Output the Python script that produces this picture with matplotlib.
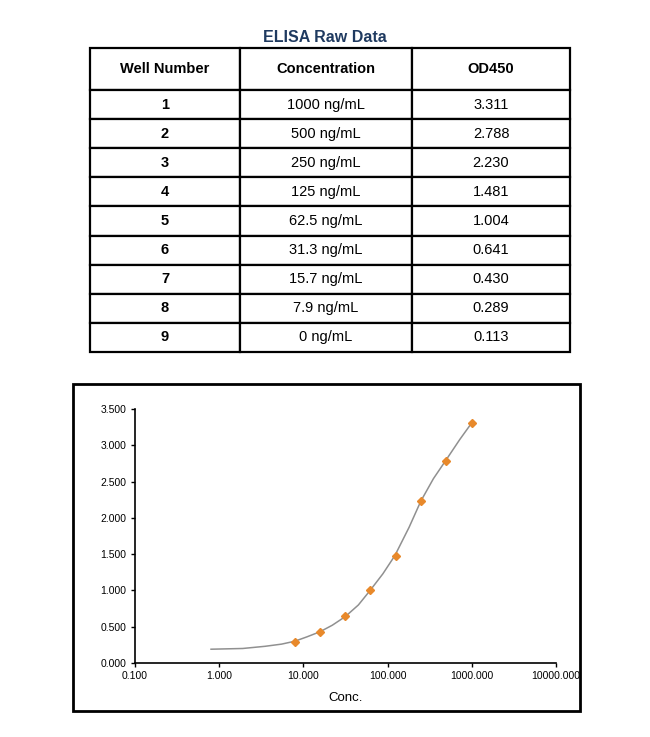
import numpy as np
import matplotlib
matplotlib.use("Agg")
import matplotlib.pyplot as plt
from matplotlib.patches import Rectangle
from matplotlib.ticker import FixedLocator, NullLocator, FormatStrFormatter

plt.rcParams['font.family'] = ['Liberation Sans', 'DejaVu Sans']

# table data
wells = ["1", "2", "3", "4", "5", "6", "7", "8", "9"]
conc_labels = ["1000 ng/mL", "500 ng/mL", "250 ng/mL", "125 ng/mL", "62.5 ng/mL",
               "31.3 ng/mL", "15.7 ng/mL", "7.9 ng/mL", "0 ng/mL"]
od_labels = ["3.311", "2.788", "2.230", "1.481", "1.004", "0.641", "0.430", "0.289", "0.113"]
headers = ["Well Number", "Concentration", "OD450"]

# standard points (0 ng/mL cannot be shown on log axis)
conc = [1000, 500, 250, 125, 62.5, 31.3, 15.7, 7.9]
od = [3.311, 2.788, 2.230, 1.481, 1.004, 0.641, 0.430, 0.289]

# fitted curve
curve_x = [0.8, 1.9, 3.5, 5.5, 7.9, 11, 15.7, 22, 31.5, 45, 62, 88, 122, 180, 248, 350, 490, 720, 1000]
curve_y = [0.19, 0.20, 0.23, 0.26, 0.30, 0.36, 0.43, 0.52, 0.64, 0.80, 1.00, 1.23, 1.48, 1.87, 2.23, 2.54, 2.79, 3.08, 3.31]

xticks = [0.1, 1, 10, 100, 1000, 10000]
yticks = [0, 0.5, 1.0, 1.5, 2.0, 2.5, 3.0, 3.5]

W, H = 650, 737
fig = plt.figure(figsize=(W/100, H/100), dpi=100)

# ---- table ----
tax = fig.add_axes([90/W, 1-352/H, 480/W, 304/H])
tax.axis("off")
rows = [list(r) for r in zip(wells, conc_labels, od_labels)]
col_w = [150, 172, 158]
tbl = tax.table(cellText=rows, colLabels=headers, cellLoc="center",
                colWidths=[c/480 for c in col_w], bbox=[0, 0, 1, 1])
tbl.auto_set_font_size(False)
for (r, c), cell in tbl.get_celld().items():
    cell.set_linewidth(1.6)
    cell.set_edgecolor("black")
    cell.set_height(42 if r == 0 else 29.1)
    txt = cell.get_text()
    txt.set_fontsize(10.5)
    if r == 0 or c == 0:
        txt.set_fontweight("bold")

fig.text(325/W, 1-37/H, "ELISA Raw Data", ha="center", va="center",
         fontsize=11.5, fontweight="bold", color="#1F3A60")

# ---- chart frame ----
fig.patches.append(Rectangle((73/W, 1-711/H), 507/W, 327/H, transform=fig.transFigure,
                             fill=False, edgecolor="black", linewidth=2))

ax = fig.add_axes([135/W, 1-663/H, 421/W, 254/H])
ax.plot(curve_x, curve_y, color="#909090", linewidth=1.1, zorder=2)
ax.plot(conc, od, linestyle="none", marker="D", markersize=3.6,
        color="#E8892B", markeredgecolor="#E8892B", zorder=3)

ax.set_xscale("log")
ax.set_xlim(0.1, 10000)
ax.set_ylim(0, 3.5)
ax.xaxis.set_major_locator(FixedLocator(xticks))
ax.xaxis.set_minor_locator(NullLocator())
ax.xaxis.set_major_formatter(FormatStrFormatter("%.3f"))
ax.set_yticks(yticks)
ax.yaxis.set_major_formatter(FormatStrFormatter("%.3f"))
ax.tick_params(labelsize=7.5, length=3, width=1, pad=3)
ax.spines["top"].set_visible(False)
ax.spines["right"].set_visible(False)
ax.spines["left"].set_linewidth(1.2)
ax.spines["bottom"].set_linewidth(1.2)
ax.set_xlabel("Conc.", fontsize=9.5, labelpad=8)

fig.savefig("out.png", dpi=100)
